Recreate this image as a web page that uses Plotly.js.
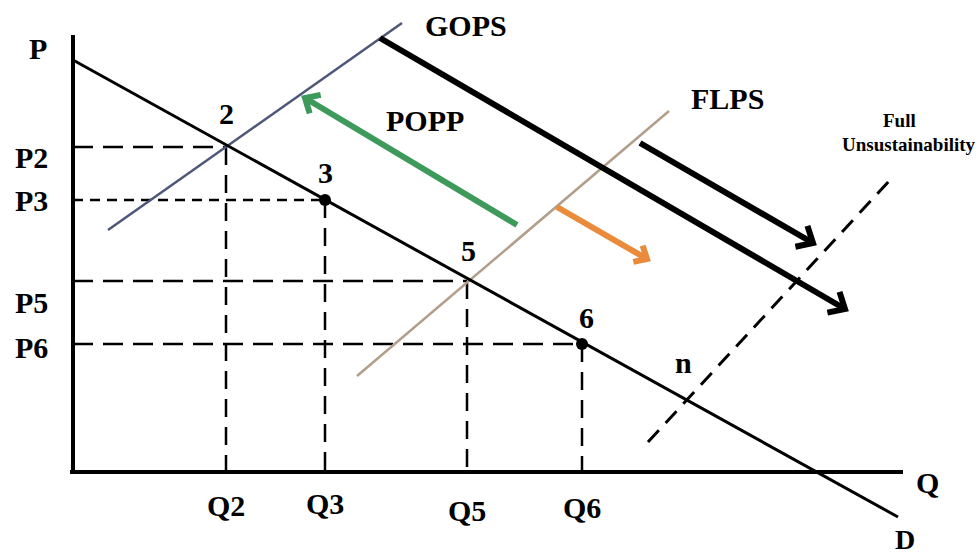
<!DOCTYPE html>
<html>
<head>
<meta charset="utf-8">
<script src="https://cdn.plot.ly/plotly-3.0.1.min.js"></script>
<style>html,body{margin:0;padding:0;background:#fff;}#chart{width:979px;height:557px;}</style>
</head>
<body>
<div id="chart"></div>
<script>
// ---- data (Q and P in chart units) ----
var pointLabels = ["2", "3", "5", "6"];
var qTickLabels = ["Q2", "Q3", "Q5", "Q6"];
var pTickLabels = ["P2", "P3", "P5", "P6"];
var qValues = [15.3, 25.2, 39.4, 50.9];
var pValues = [32.5, 27.2, 19.1, 12.8];
var dotted = [false, true, false, true];

var demandQ = [0, 82.5];
var demandP = [41.2, -4.5];
var gopsQ = [3.5, 32.9];
var gopsP = [24.2, 44.9];
var flpsQ = [28.4, 59.6];
var flpsP = [9.6, 36.1];
var fullUnsQ = [57.5, 81.7];
var fullUnsP = [3.0, 29.2];
var nPoint = [62.4, 8.6];

var bigShift1Q = [30.7, 77.2];
var bigShift1P = [43.4, 16.3];
var bigShift2Q = [56.7, 74.0];
var bigShift2P = [32.9, 22.9];
var poppArrowQ = [44.4, 23.2];
var poppArrowP = [24.7, 37.4];
var flpsArrowQ = [48.4, 57.4];
var flpsArrowP = [26.5, 21.3];

var axisTopP = 43.7;
var axisEndQ = 83.0;

// ---- drawing ----
var traces = [];
function line(xs, ys, color, width, dash) {
  traces.push({type: "scatter", mode: "lines", x: xs, y: ys, hoverinfo: "skip",
    line: {color: color, width: width, dash: dash || "solid"}});
}
function chevron(xs, ys, len, angDeg, color, width) {
  var dx = xs[1] - xs[0], dy = ys[1] - ys[0];
  var L = Math.sqrt(dx * dx + dy * dy);
  var bx = -dx / L, by = -dy / L;
  var a = angDeg * Math.PI / 180;
  function rot(s) {
    var c = Math.cos(s * a), sn = Math.sin(s * a);
    return [xs[1] + len * (bx * c - by * sn), ys[1] + len * (bx * sn + by * c)];
  }
  var p1 = rot(1), p2 = rot(-1);
  traces.push({type: "scatter", mode: "lines", hoverinfo: "skip",
    x: [p1[0], xs[1], p2[0]], y: [p1[1], ys[1], p2[1]],
    line: {color: color, width: width, join: "miter"}});
}
function arrow(xs, ys, color, width, len) {
  line(xs, ys, color, width);
  chevron(xs, ys, len, 42, color, width);
}

// axes
line([0, 0], [0, axisTopP], "#000", 4);
line([-0.3, axisEndQ], [0, 0], "#000", 4);

// dashed guides
for (var i = 0; i < qValues.length; i++) {
  var d = i === 1 ? "10px,7px" : "20px,10px";
  line([0, qValues[i]], [pValues[i], pValues[i]], "#000", 2.5, d);
  line([qValues[i], qValues[i]], [pValues[i], 0], "#000", 2.5, "18px,10px");
}

// curves
line(gopsQ, gopsP, "#4d5878", 2.5);
line(flpsQ, flpsP, "#b39e8a", 2.5);
line(fullUnsQ, fullUnsP, "#000", 3, "16px,10px");
line(demandQ, demandP, "#000", 3);

// arrows
arrow(poppArrowQ, poppArrowP, "#3d9a5a", 6, 1.6);
arrow(flpsArrowQ, flpsArrowP, "#e98b3a", 6, 1.4);
arrow(bigShift1Q, bigShift1P, "#000", 6, 1.8);
arrow(bigShift2Q, bigShift2P, "#000", 6, 1.8);

// dots
var dq = [], dp = [];
for (var j = 0; j < qValues.length; j++) { if (dotted[j]) { dq.push(qValues[j]); dp.push(pValues[j]); } }
traces.push({type: "scatter", mode: "markers", x: dq, y: dp, hoverinfo: "skip",
  marker: {color: "#000", size: 12}});

// labels
var F = "Liberation Serif, Times New Roman, serif";
var ann = [];
function txt(x, y, s, size) {
  ann.push({x: x, y: y, xref: "x", yref: "y", text: "<b>" + s + "</b>", showarrow: false,
    font: {family: F, size: size || 30, color: "#000"}, xanchor: "center", yanchor: "middle"});
}
txt(-3.5, 42.4, "P");
for (var k = 0; k < qValues.length; k++) {
  txt(-4.2, pValues[k] - [1.0, 0, 2.1, 0.3][k], pTickLabels[k]);
  txt(qValues[k], [-3.3, -3.1, -3.8, -3.5][k], qTickLabels[k]);
  txt(qValues[k] + [0, 0, 0.1, 0.4][k], pValues[k] + [3.4, 2.8, 3.1, 2.7][k], pointLabels[k]);
}
txt(nPoint[0] - 1.4, nPoint[1] + 2.4, "n");
txt(85.4, -1.0, "Q");
txt(83.2, -6.7, "D", 28);
txt(82.6, 35.2, "Full", 19);
txt(83.6, 32.8, "Unsustainability", 19);
txt(39.3, 44.7, "GOPS");
txt(35.2, 35.2, "POPP");
txt(65.4, 37.4, "FLPS");

var layout = {
  width: 979, height: 557,
  margin: {l: 0, r: 0, t: 0, b: 0},
  paper_bgcolor: "#fff", plot_bgcolor: "#fff",
  showlegend: false,
  xaxis: {range: [-7.3, 90.6], visible: false, fixedrange: true},
  yaxis: {range: [-8.5, 47.2], visible: false, fixedrange: true},
  annotations: ann
};
Plotly.newPlot("chart", traces, layout, {staticPlot: true, displayModeBar: false});
</script>
</body>
</html>
